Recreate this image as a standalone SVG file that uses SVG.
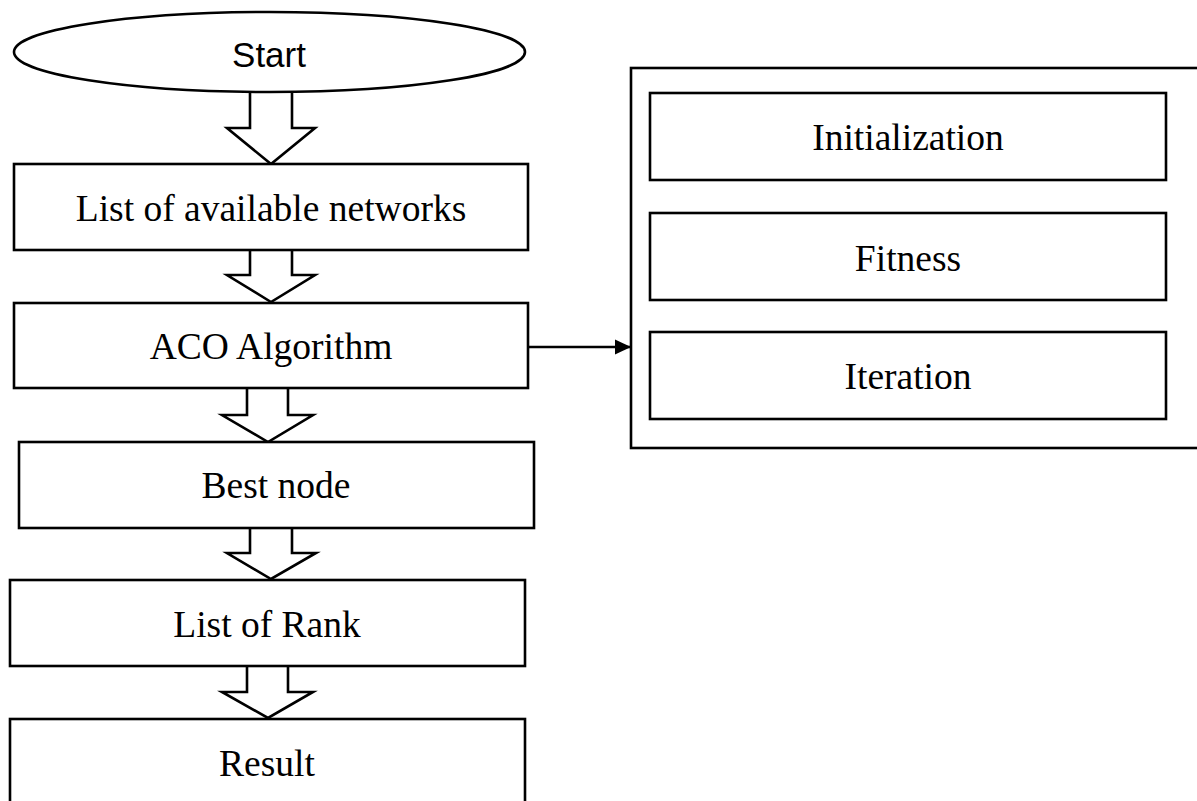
<svg xmlns="http://www.w3.org/2000/svg" width="1197" height="801" viewBox="0 0 1197 801">
  <style>
    .box { fill: #ffffff; stroke: #000000; stroke-width: 2.6; }
    .flow { fill: #ffffff; stroke: #000000; stroke-width: 2.6; stroke-linejoin: miter; }
    .lbl { font-family: "Liberation Serif", "Times New Roman", serif; font-size: 37.5px; fill: #000000; text-anchor: middle; }
    .sans { font-family: "Liberation Sans", Arial, sans-serif; font-size: 35px; fill: #000000; text-anchor: middle; }
    .link { stroke: #000000; stroke-width: 2.6; fill: none; }
  </style>
  <defs>
    <marker id="head" markerWidth="16" markerHeight="16" refX="16" refY="8" orient="auto" markerUnits="userSpaceOnUse">
      <path d="M0,0.5 L16,8 L0,15.5 Z" fill="#000000"/>
    </marker>
  </defs>

  <rect width="1197" height="801" fill="#ffffff"/>

  <!-- block arrows between the steps of the main flow -->
  <g id="connectors">
    <path class="flow" d="M250,92 V128 H227 L271,164 L315,128 H292 V92"/>
    <path class="flow" d="M250,250 V275 H227 L271,302 L315,275 H292 V250"/>
    <path class="flow" d="M247,388 V415 H222 L268,442 L313,415 H288 V388"/>
    <path class="flow" d="M250,528 V553 H227 L271,579 L316,553 H292 V528"/>
    <path class="flow" d="M247,666 V692 H222 L268,718 L313,692 H288 V666"/>
    <line class="link" x1="528" y1="347" x2="631" y2="347" marker-end="url(#head)"/>
  </g>

  <g id="start">
    <ellipse class="box" cx="269.5" cy="52" rx="255.5" ry="40"/>
    <text class="sans" x="269" y="67">Start</text>
  </g>

  <g id="networks">
    <rect class="box" x="14" y="164" width="514" height="86"/>
    <text class="lbl" x="271" y="221">List of available networks</text>
  </g>

  <g id="aco">
    <rect class="box" x="14" y="303" width="514" height="85"/>
    <text class="lbl" x="271" y="359">ACO Algorithm</text>
  </g>

  <g id="best-node">
    <rect class="box" x="19" y="442" width="515" height="86"/>
    <text class="lbl" x="276" y="498">Best node</text>
  </g>

  <g id="rank">
    <rect class="box" x="10" y="580" width="515" height="86"/>
    <text class="lbl" x="267" y="637">List of Rank</text>
  </g>

  <g id="result">
    <rect class="box" x="10" y="719" width="515" height="90"/>
    <text class="lbl" x="267" y="776">Result</text>
  </g>

  <!-- ACO stages panel -->
  <g id="aco-stages">
    <rect class="box" x="631" y="68" width="572" height="380"/>
  </g>

  <g id="initialization">
    <rect class="box" x="650" y="93" width="516" height="87"/>
    <text class="lbl" x="908" y="150">Initialization</text>
  </g>

  <g id="fitness">
    <rect class="box" x="650" y="213" width="516" height="87"/>
    <text class="lbl" x="908" y="271">Fitness</text>
  </g>

  <g id="iteration">
    <rect class="box" x="650" y="332" width="516" height="87"/>
    <text class="lbl" x="908" y="389">Iteration</text>
  </g>
</svg>
